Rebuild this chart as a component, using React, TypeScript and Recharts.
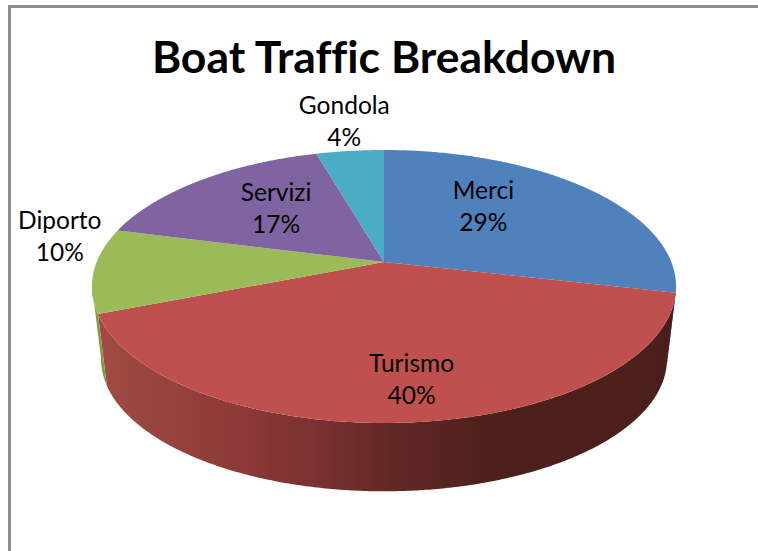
import { PieChart, Pie } from "recharts";

const categories = ["Merci", "Turismo", "Diporto", "Servizi", "Gondola"];
const shares = [28.6, 40.4, 10, 16.55, 4.45];
const topColors = ["#4F81BD", "#C0504D", "#9BBB59", "#8064A2", "#4BACC6"];
const wallColors = ["#2F4D72", "url(#turismoWall)", "#7F9C45", "#5F4A7A", "#358"];

const data = categories.map((name, i) => ({
  name,
  value: shares[i],
  fill: topColors[i],
  wall: wallColors[i],
}));

// where each label sits relative to the slice's mid point on the top face
const labelNudge: Record<string, [number, number]> = {
  Merci: [-27, -9],
  Turismo: [13, 29],
  Diporto: [-151, -30],
  Servizi: [7, -2],
  Gondola: [-18, -69],
};

// perspective of the tilted disc
const K = 0.1795;
const topDisc = { a: 287.3, b: 132.1, dy: 0 };
const bottomDisc = { a: 278.4, b: 128, dy: 73.3 };
const FRONT_START = 100;
const FRONT_END = 260;

const project = (
  cx: number,
  cy: number,
  disc: { a: number; b: number; dy: number },
  deg: number,
  f = 1,
) => {
  const t = (deg * Math.PI) / 180;
  const d = 1 + K * f * Math.cos(t);
  return {
    x: cx + (disc.a * f * Math.sin(t)) / d,
    y: cy + disc.dy - (disc.b * f * Math.cos(t)) / d,
  };
};

const arcPoints = (
  cx: number,
  cy: number,
  disc: { a: number; b: number; dy: number },
  from: number,
  to: number,
) => {
  const pts: string[] = [];
  const steps = Math.max(2, Math.ceil(Math.abs(to - from) * 2));
  for (let i = 0; i <= steps; i++) {
    const p = project(cx, cy, disc, from + ((to - from) * i) / steps);
    pts.push(`${p.x.toFixed(2)} ${p.y.toFixed(2)}`);
  }
  return pts;
};

// recharts angles run counter-clockwise from 3 o'clock, the disc runs clockwise from 12
const clockAngle = (a: number) => 90 - a;

const TopSlice = (props: any) => {
  const { cx, cy, startAngle, endAngle, fill } = props;
  const pts = arcPoints(cx, cy, topDisc, clockAngle(startAngle), clockAngle(endAngle));
  return <path d={`M ${cx} ${cy} L ${pts.join(" L ")} Z`} fill={fill} stroke="none" />;
};

const WallSlice = (props: any) => {
  const { cx, cy, startAngle, endAngle, payload } = props;
  const from = Math.max(clockAngle(startAngle), FRONT_START);
  const to = Math.min(clockAngle(endAngle), FRONT_END);
  if (to <= from) return null;
  const upper = arcPoints(cx, cy, topDisc, from, to);
  const lower = arcPoints(cx, cy, bottomDisc, to, from);
  return (
    <path
      d={`M ${[...upper, ...lower].join(" L ")} Z`}
      fill={payload?.wall ?? props.wall}
      stroke="none"
    />
  );
};

const SliceLabel = (props: any) => {
  const { cx, cy, midAngle, name, percent } = props;
  const [dx, dy] = labelNudge[name];
  const p = project(cx, cy, topDisc, clockAngle(midAngle), 0.6);
  return (
    <text
      x={p.x + dx}
      y={p.y + dy}
      textAnchor="middle"
      fontFamily="Lato, sans-serif"
      fontSize={24.5}
      fill="#000"
    >
      <tspan x={p.x + dx} dy={-8}>
        {name}
      </tspan>
      <tspan x={p.x + dx} dy={32}>
        {Math.round(percent * 100)}%
      </tspan>
    </text>
  );
};

export default function App() {
  return (
    <div style={{ position: "absolute", left: 0, top: 0, width: 758, height: 551, background: "#fff" }}>
      <div
        style={{
          position: "absolute",
          left: 8,
          top: 5,
          width: 747,
          height: 543,
          borderLeft: "3px solid #8e8e8e",
          borderTop: "3px solid #8e8e8e",
        }}
      />
      <div style={{ position: "absolute", left: 0, top: 0 }}>
        <PieChart width={758} height={551} margin={{ top: 0, right: 0, bottom: 0, left: 0 }}>
          <defs>
            <linearGradient id="turismoWall" gradientUnits="userSpaceOnUse" x1={105} y1={0} x2={670} y2={0}>
              <stop offset="0" stopColor="#A04A44" />
              <stop offset="0.25" stopColor="#8B3836" />
              <stop offset="0.41" stopColor="#742F2D" />
              <stop offset="0.52" stopColor="#602725" />
              <stop offset="0.69" stopColor="#4E1F1C" />
              <stop offset="1" stopColor="#4B1E1C" />
            </linearGradient>
          </defs>
          <text
            x={384}
            y={73}
            textAnchor="middle"
            fontFamily="Lato, sans-serif"
            fontWeight={700}
            fontSize={44.5}
            fill="#000"
            style={{ fontVariantLigatures: "none" }}
          >
            Boat Traffic Breakdown
          </text>
          <Pie
            data={data}
            dataKey="value"
            nameKey="name"
            cx={384}
            cy={262}
            outerRadius={200}
            startAngle={90}
            endAngle={-270}
            shape={WallSlice}
            isAnimationActive={false}
            legendType="none"
          />
          <Pie
            data={data}
            dataKey="value"
            nameKey="name"
            cx={384}
            cy={262}
            outerRadius={200}
            startAngle={90}
            endAngle={-270}
            shape={TopSlice}
            label={SliceLabel}
            labelLine={false}
            isAnimationActive={false}
            legendType="none"
          />
        </PieChart>
      </div>
    </div>
  );
}
